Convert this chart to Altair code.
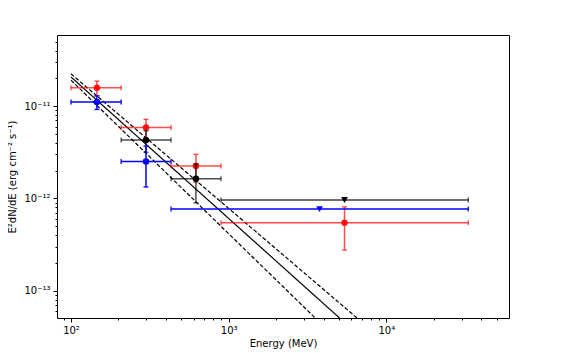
import altair as alt
import pandas as pd

# ---------------- data ----------------
red_E   = [146, 299, 620, 5430]
red_Elo = [100, 208, 431, 894]
red_Ehi = [208, 431, 894, 33100]
red_F   = [1.58e-11, 5.87e-12, 2.25e-12, 5.45e-13]
red_Flo = [1.29e-11, 4.55e-12, 1.50e-12, 2.75e-13]
red_Fhi = [1.87e-11, 7.20e-12, 3.00e-12, 8.10e-13]

black_E   = [299, 620]
black_Elo = [208, 431]
black_Ehi = [431, 894]
black_F   = [4.28e-12, 1.63e-12]
black_Flo = [3.16e-12, 8.96e-13]
black_Fhi = [5.40e-12, 2.36e-12]
black_ul_E, black_ul_Elo, black_ul_Ehi, black_ul_F = [5430], [894], [33100], [9.6e-13]

blue_E   = [146, 299]
blue_Elo = [100, 208]
blue_Ehi = [208, 431]
blue_F   = [1.11e-11, 2.51e-12]
blue_Flo = [9.2e-12, 1.33e-12]
blue_Fhi = [1.29e-11, 3.69e-12]
blue_ul_E, blue_ul_Elo, blue_ul_Ehi, blue_ul_F = [3770], [431], [33100], [7.65e-13]

# model power law and its bounds (endpoints)
line_kind  = ["best", "best", "upper", "upper", "lower", "lower"]
line_style = ["solid", "solid", "dashed", "dashed", "dashed", "dashed"]
line_E     = [100, 5050, 100, 6520, 100, 3540]
line_F     = [2.07e-11, 5.05e-14, 2.24e-11, 5.05e-14, 1.91e-11, 5.05e-14]

x_major = [100, 1000, 10000]
x_major_labels = ["10²", "10³", "10⁴"]
x_minor = [90, 200, 300, 400, 500, 600, 700, 800, 900,
           2000, 3000, 4000, 5000, 6000, 7000, 8000, 9000,
           20000, 30000, 40000, 50000]
y_major = [1e-13, 1e-12, 1e-11]
y_major_labels = ["10⁻¹³", "10⁻¹²", "10⁻¹¹"]
y_minor = [6e-14, 7e-14, 8e-14, 9e-14,
           2e-13, 3e-13, 4e-13, 5e-13, 6e-13, 7e-13, 8e-13, 9e-13,
           2e-12, 3e-12, 4e-12, 5e-12, 6e-12, 7e-12, 8e-12, 9e-12,
           2e-11, 3e-11, 4e-11, 5e-11]

X_DOMAIN = [81.5, 60000]
Y_DOMAIN = [5.05e-14, 5.9e-11]
FONT = "DejaVu Sans"

# ---------------- helpers ----------------
def label_expr(vals, labs):
    expr = "''"
    for v, l in zip(vals, labs):
        expr = f"abs(datum.value/{v!r} - 1) < 1e-6 ? '{l}' : " + expr
    return expr

major_test = "abs(log(datum.value)/LN10 - round(log(datum.value)/LN10)) < 0.001"

x_axis = alt.Axis(values=sorted(x_major + x_minor),
                  labelExpr=label_expr(x_major, x_major_labels),
                  tickSize={"condition": {"test": major_test, "value": 4}, "value": 2},
                  title="Energy (MeV)", grid=False, domain=False,
                  labelPadding=3, titlePadding=3, labelFlush=False,
                  labelOverlap=False)
y_axis = alt.Axis(values=sorted(y_major + y_minor),
                  labelExpr=label_expr(y_major, y_major_labels),
                  tickSize={"condition": {"test": major_test, "value": 4}, "value": 2},
                  title="E²dN/dE  (erg cm⁻² s⁻¹)", grid=False, domain=False,
                  labelPadding=3, titlePadding=6, labelFlush=False,
                  labelOverlap=False)

def X(field):
    return alt.X(f"{field}:Q", scale=alt.Scale(type="log", domain=X_DOMAIN, nice=False), axis=x_axis)

def Y(field):
    return alt.Y(f"{field}:Q", scale=alt.Scale(type="log", domain=Y_DOMAIN, nice=False), axis=y_axis)

def series_layers(E, Elo, Ehi, F, Flo, Fhi, color, line_op, pt_op):
    df = pd.DataFrame({"E": E, "Elo": Elo, "Ehi": Ehi, "F": F, "Flo": Flo, "Fhi": Fhi})
    base = alt.Chart(df)
    hbar = base.mark_rule(color=color, opacity=line_op, strokeWidth=1.5).encode(
        x=X("Elo"), x2="Ehi", y=Y("F"))
    vbar = base.mark_rule(color=color, opacity=line_op, strokeWidth=1.5).encode(
        x=X("E"), y=Y("Flo"), y2="Fhi")
    capl = base.mark_tick(color=color, opacity=line_op, orient="vertical", size=5, thickness=1.3).encode(
        x=X("Elo"), y=Y("F"))
    capr = base.mark_tick(color=color, opacity=line_op, orient="vertical", size=5, thickness=1.3).encode(
        x=X("Ehi"), y=Y("F"))
    capt = base.mark_tick(color=color, opacity=line_op, orient="horizontal", size=5, thickness=1.3).encode(
        x=X("E"), y=Y("Fhi"))
    capb = base.mark_tick(color=color, opacity=line_op, orient="horizontal", size=5, thickness=1.3).encode(
        x=X("E"), y=Y("Flo"))
    pts = base.mark_point(shape="circle", filled=True, color=color, opacity=pt_op, size=42).encode(
        x=X("E"), y=Y("F"))
    return [hbar, vbar, capl, capr, capt, capb, pts]

def ul_layers(E, Elo, Ehi, F, color, line_op):
    df = pd.DataFrame({"E": E, "Elo": Elo, "Ehi": Ehi, "F": F})
    base = alt.Chart(df)
    hbar = base.mark_rule(color=color, opacity=line_op, strokeWidth=1.5).encode(
        x=X("Elo"), x2="Ehi", y=Y("F"))
    capl = base.mark_tick(color=color, opacity=line_op, orient="vertical", size=5, thickness=1.3).encode(
        x=X("Elo"), y=Y("F"))
    capr = base.mark_tick(color=color, opacity=line_op, orient="vertical", size=5, thickness=1.3).encode(
        x=X("Ehi"), y=Y("F"))
    tri = base.mark_point(shape="triangle-down", filled=True, color=color, opacity=1, size=45).encode(
        x=X("E"), y=Y("F"))
    return [hbar, capl, capr, tri]

# ---------------- model lines ----------------
df_line = pd.DataFrame({"kind": line_kind, "style": line_style, "E": line_E, "F": line_F})
model = alt.Chart(df_line).mark_line(color="black", strokeWidth=1.2, clip=True).encode(
    x=X("E"), y=Y("F"), detail="kind:N",
    strokeDash=alt.StrokeDash("style:N",
                              scale=alt.Scale(domain=["solid", "dashed"], range=[[1, 0], [4, 2]]),
                              legend=None))

layers = [model]
layers += series_layers(red_E, red_Elo, red_Ehi, red_F, red_Flo, red_Fhi, "#ff0000", 0.7, 0.9)
layers += series_layers(black_E, black_Elo, black_Ehi, black_F, black_Flo, black_Fhi, "#000000", 0.7, 1.0)
layers += ul_layers(black_ul_E, black_ul_Elo, black_ul_Ehi, black_ul_F, "#000000", 0.75)
layers += series_layers(blue_E, blue_Elo, blue_Ehi, blue_F, blue_Flo, blue_Fhi, "#0000ff", 1.0, 1.0)
layers += ul_layers(blue_ul_E, blue_ul_Elo, blue_ul_Ehi, blue_ul_F, "#0000ff", 1.0)

chart = alt.layer(*layers).properties(
    width=452, height=283,
    autosize=alt.AutoSizeParams(type="none"),
    padding={"left": 49, "top": 27, "right": 48, "bottom": 45},
    background="white",
).configure_view(
    stroke="black", strokeWidth=1
).configure_axis(
    labelFont=FONT, labelFontSize=10, labelColor="black",
    titleFont=FONT, titleFontSize=10, titleFontWeight="normal", titleColor="black",
    tickColor="black", tickWidth=1,
)

chart.save("out.html", embed_options={"renderer": "svg", "actions": False})
